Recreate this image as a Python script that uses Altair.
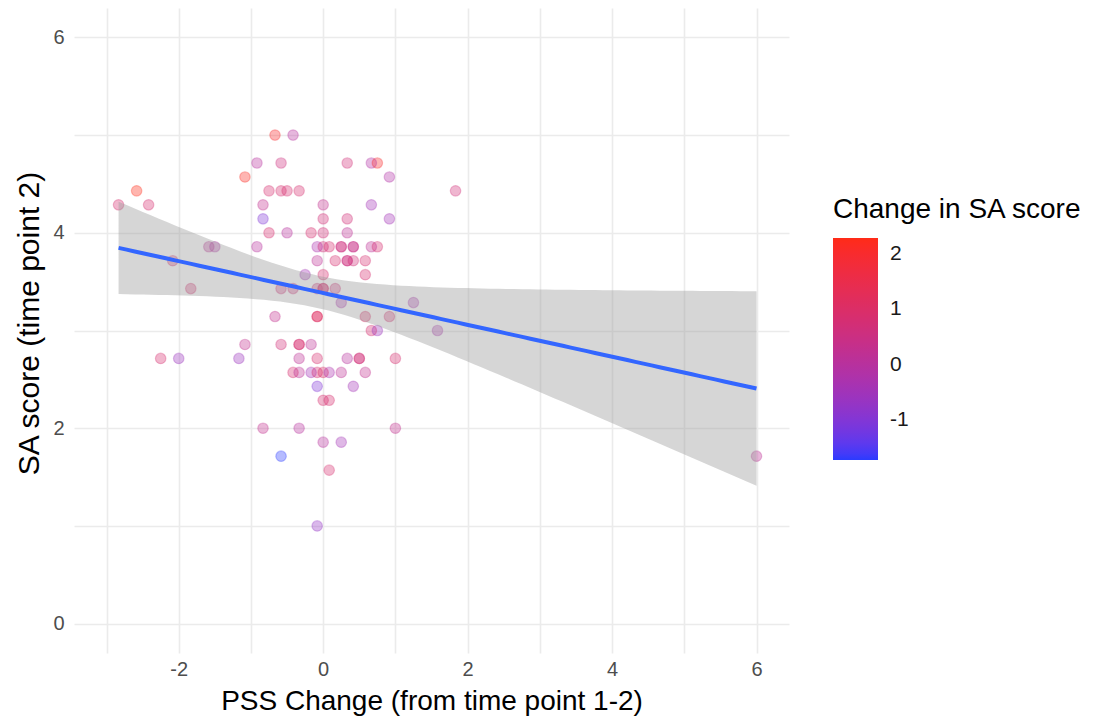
import altair as alt
import numpy as np
import pandas as pd

# ---- data ----
pss_change = [
    -0.667, -0.417,
    -0.917, -0.583, 0.333, 0.667, 0.75,
    -1.083, 0.917,
    -2.583, -0.75, -0.583, -0.5, -0.333, 1.833,
    -2.833, -2.417, -0.833, 0.0, 0.667,
    -0.833, 0.0, 0.333, 0.917,
    -0.75, -0.5, -0.167, 0.0, 0.333,
    -1.583, -1.5, -0.917, -0.083, 0.0, 0.083, 0.25, 0.25, 0.417, 0.417, 0.667, 0.75,
    -2.083, -0.083, 0.167, 0.333, 0.333, 0.417, 0.583,
    -0.25, 0.0, 0.583,
    -1.833, -0.583, -0.417, -0.083, 0.0, 0.0, 0.167,
    0.25, 1.25,
    -0.667, -0.083, -0.083, 0.583, 0.917,
    0.667, 0.75, 1.583,
    -1.083, -0.583, -0.333, -0.333, -0.167,
    -2.25, -2.0, -1.167, -0.333, -0.083, 0.333, 0.5, 0.5, 1.0,
    -0.417, -0.333, -0.167, -0.083, 0.0, 0.083, 0.25, 0.583,
    -0.083, 0.417,
    0.0, 0.083,
    -0.833, -0.333, 1.0,
    0.0, 0.25,
    -0.583, 6.0,
    0.083,
    -0.083,
]
sa_time2 = [
    5.0, 5.0,
    4.714, 4.714, 4.714, 4.714, 4.714,
    4.571, 4.571,
    4.429, 4.429, 4.429, 4.429, 4.429, 4.429,
    4.286, 4.286, 4.286, 4.286, 4.286,
    4.143, 4.143, 4.143, 4.143,
    4.0, 4.0, 4.0, 4.0, 4.0,
    3.857, 3.857, 3.857, 3.857, 3.857, 3.857, 3.857, 3.857, 3.857, 3.857, 3.857, 3.857,
    3.714, 3.714, 3.714, 3.714, 3.714, 3.714, 3.714,
    3.571, 3.571, 3.571,
    3.429, 3.429, 3.429, 3.429, 3.429, 3.429, 3.429,
    3.286, 3.286,
    3.143, 3.143, 3.143, 3.143, 3.143,
    3.0, 3.0, 3.0,
    2.857, 2.857, 2.857, 2.857, 2.857,
    2.714, 2.714, 2.714, 2.714, 2.714, 2.714, 2.714, 2.714, 2.714,
    2.571, 2.571, 2.571, 2.571, 2.571, 2.571, 2.571, 2.571,
    2.429, 2.429,
    2.286, 2.286,
    2.0, 2.0, 2.0,
    1.857, 1.857,
    1.714, 1.714,
    1.571,
    1.0,
]
sa_change = [
    2.0, 0.0,
    0.0, 0.571, 0.714, -0.143, 2.0,
    2.143, -0.143,
    2.286, 0.857, 0.857, 0.857, 0.857, 0.714,
    0.857, 0.857, 0.286, 0.286, -0.429,
    -1.0, 0.714, 0.714, -0.429,
    0.857, 0.0, 0.857, 0.714, 0.143,
    0.143, -0.143, 0.0, -0.286, 0.714, 0.857, 0.571, 0.571, 0.429, 0.429, 0.143, 0.857,
    0.857, 0.143, 0.857, 0.571, 0.571, 0.714, 0.857,
    -0.429, 0.857, 0.857,
    0.857, 0.714, 0.714, 0.714, 0.857, 0.857, 0.714,
    -0.286, -0.286,
    0.286, 1.143, 1.143, 1.0, 0.857,
    0.857, -0.571, -0.286,
    0.286, 0.714, 0.857, 0.857, 0.143,
    0.857, -0.571, -0.571, 0.143, 0.857, 0.0, 0.714, 0.714, 0.857,
    0.857, 0.143, -0.429, 0.857, 1.0, -0.286, 0.143, 0.286,
    -1.0, -0.429,
    0.857, 0.857,
    0.286, 0.0, 0.286,
    0.0, -0.429,
    -1.714, 0.143,
    0.857,
    -0.714,
]

x_ticks = [-3, -2, -1, 0, 1, 2, 3, 4, 5, 6]
y_ticks = [0, 1, 2, 3, 4, 5, 6]
legend_ticks = [-1, 0, 1, 2]
x_title = "PSS Change (from time point 1-2)"
y_title = "SA score (time point 2)"
color_title = "Change in SA score"

df = pd.DataFrame({"pss": pss_change, "sa": sa_time2, "chg": sa_change})

# ---- linear fit with 95% confidence band (like geom_smooth(method = "lm")) ----
xa = np.array(pss_change, dtype=float)
ya = np.array(sa_time2, dtype=float)
n = len(xa)
slope, intercept = np.polyfit(xa, ya, 1)
grid = np.linspace(xa.min(), xa.max(), 80)
fit = intercept + slope * grid
resid = ya - (intercept + slope * xa)
s = np.sqrt(np.sum(resid ** 2) / (n - 2))
sxx = np.sum((xa - xa.mean()) ** 2)
t_crit = 1.984
se = s * np.sqrt(1.0 / n + (grid - xa.mean()) ** 2 / sxx)
band = pd.DataFrame({"pss": grid, "fit": fit, "lo": fit - t_crit * se, "hi": fit + t_crit * se})

FONT = "Liberation Sans"
xs = alt.Scale(domain=[-3.45, 6.45], nice=False, zero=False)
ys = alt.Scale(domain=[-0.3, 6.3], nice=False, zero=False)
cdom = [min(sa_change), max(sa_change)]
crange = ["#2b3bff", "#ff2b17"]

even_label = "datum.value % 2 == 0 ? '' + datum.value : ''"
x_axis = alt.Axis(values=x_ticks, labelExpr=even_label,
                  title=x_title, grid=True, ticks=False, domain=False,
                  labelFontSize=20, labelColor="#4d4d4d", labelPadding=6,
                  titleFontSize=28, titleFontWeight="normal", titleColor="#000000", titlePadding=8)
y_axis = alt.Axis(values=y_ticks, labelExpr=even_label,
                  title=y_title, grid=True, ticks=False, domain=False,
                  labelFontSize=20, labelColor="#4d4d4d", labelPadding=10,
                  titleFontSize=30, titleFontWeight="normal", titleColor="#000000", titlePadding=8,
                  titleY=315)

legend = alt.Legend(title=color_title, orient="none", legendX=759, legendY=188, direction="vertical",
                    type="gradient",
                    gradientLength=222, gradientThickness=45, values=legend_ticks,
                    labelExpr="'' + datum.value",
                    titleFontSize=28, titleFontWeight="normal", titleColor="#000000", titlePadding=14,
                    labelFontSize=21, labelColor="#1a1a1a", labelOffset=12, gradientStrokeWidth=0,
                    titleLimit=400)

points = alt.Chart(df).mark_circle(size=110, fillOpacity=0.35, strokeWidth=0).encode(
    x=alt.X("pss:Q", scale=xs, axis=x_axis),
    y=alt.Y("sa:Q", scale=ys, axis=y_axis),
    color=alt.Color("chg:Q", scale=alt.Scale(domain=cdom, range=crange, interpolate="lab"), legend=legend),
)
rings = alt.Chart(df).mark_point(size=110, filled=False, opacity=0.3, strokeWidth=1.2).encode(
    x=alt.X("pss:Q", scale=xs),
    y=alt.Y("sa:Q", scale=ys),
    stroke=alt.Stroke("chg:Q", scale=alt.Scale(domain=cdom, range=crange, interpolate="lab"), legend=None),
)

ribbon = alt.Chart(band).mark_area(color="#999999", opacity=0.4).encode(
    x=alt.X("pss:Q", scale=xs), y=alt.Y("lo:Q", scale=ys), y2="hi:Q"
)
line = alt.Chart(band).mark_line(color="#3366FF", strokeWidth=4).encode(
    x=alt.X("pss:Q", scale=xs), y=alt.Y("fit:Q", scale=ys)
)

chart = alt.layer(points, rings, ribbon, line).resolve_scale(
    color="independent", stroke="independent"
).resolve_legend(color="independent", stroke="independent").properties(
    width=715, height=645,
    autosize=alt.AutoSizeParams(type="none"),
    padding={"left": 66, "top": 0, "right": 296, "bottom": 64},
).configure(font=FONT).configure_view(stroke=None).configure_axis(
    gridColor="#ebebeb", gridWidth=1.6
)

chart.save("out.html", embed_options={"renderer": "svg", "actions": False})
